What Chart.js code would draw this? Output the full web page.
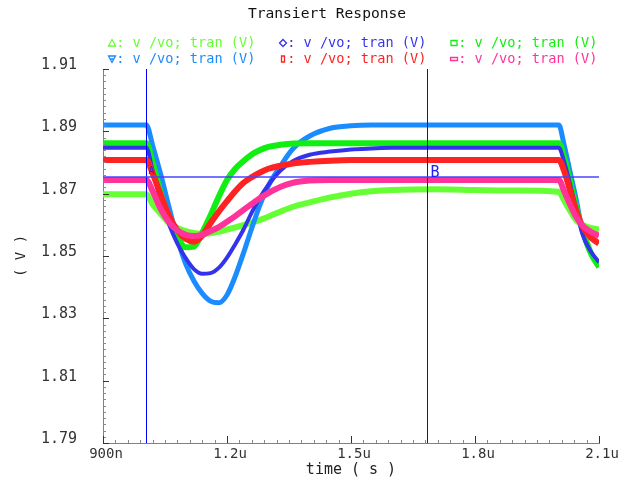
<!DOCTYPE html>
<html>
<head>
<meta charset="utf-8">
<script src="https://cdn.jsdelivr.net/npm/chart.js@4.4.1/dist/chart.umd.min.js"></script>
<style>
  html, body { margin: 0; padding: 0; background: #fff; }
</style>
</head>
<body>
<canvas id="chart" width="626" height="483"></canvas>
<script>
// time in microseconds
const times = [0.9, 0.95, 1.005, 1.02, 1.04, 1.06, 1.08, 1.10, 1.12, 1.14, 1.16, 1.18, 1.20, 1.22, 1.24, 1.26, 1.28, 1.30,
    1.33, 1.36, 1.40, 1.45, 1.50, 1.55, 1.60, 1.70, 1.80, 1.90, 2.003, 2.015, 2.03, 2.045, 2.06, 2.08, 2.1];

const lightGreen = [1.8698, 1.8698, 1.8698, 1.8666, 1.8635, 1.8606, 1.8590, 1.8580, 1.8574, 1.8571, 1.8573, 1.8578, 1.8585, 1.8592, 1.8599, 1.8607, 1.8616, 1.8626,
    1.8643, 1.8658, 1.8672, 1.8688, 1.8700, 1.8708, 1.8712, 1.8714, 1.8712, 1.8710, 1.8706, 1.8680, 1.8645, 1.8615, 1.8600, 1.8590, 1.8585];
const darkBlue = [1.8847, 1.8847, 1.8847, 1.8775, 1.8675, 1.8600, 1.8540, 1.8493, 1.8458, 1.8443, 1.8445, 1.8462, 1.8495, 1.8538, 1.8585, 1.8640, 1.8688, 1.8728,
    1.8775, 1.8805, 1.8825, 1.8835, 1.8842, 1.8845, 1.8847, 1.8847, 1.8847, 1.8847, 1.8847, 1.8805, 1.8730, 1.8650, 1.8570, 1.8515, 1.8480];
const green = [1.8862, 1.8862, 1.8862, 1.8800, 1.8700, 1.8622, 1.8562, 1.8528, 1.8530, 1.8575, 1.8630, 1.8690, 1.8744, 1.8780, 1.8805, 1.8826, 1.8840, 1.8850,
    1.8857, 1.8861, 1.8862, 1.8862, 1.8862, 1.8862, 1.8862, 1.8862, 1.8862, 1.8862, 1.8862, 1.8820, 1.8740, 1.8655, 1.8585, 1.8510, 1.8465];
const lightBlue = [1.8920, 1.8920, 1.8920, 1.8855, 1.8760, 1.8655, 1.8555, 1.8475, 1.8420, 1.8380, 1.8355, 1.8350, 1.8375, 1.8435, 1.8510, 1.8590, 1.8665, 1.8725,
    1.8790, 1.8845, 1.8885, 1.8910, 1.8918, 1.8920, 1.8920, 1.8920, 1.8920, 1.8920, 1.8920, 1.8860, 1.8770, 1.8680, 1.8580, 1.8510, 1.8465];
const red = [1.8808, 1.8808, 1.8808, 1.8765, 1.8695, 1.8628, 1.8582, 1.8555, 1.8546, 1.8565, 1.8605, 1.8642, 1.8676, 1.8708, 1.8735, 1.8753, 1.8768, 1.8780,
    1.8790, 1.8797, 1.8802, 1.8806, 1.8808, 1.8808, 1.8808, 1.8808, 1.8808, 1.8808, 1.8808, 1.8775, 1.8710, 1.8645, 1.8595, 1.8560, 1.8540];
const pink = [1.8744, 1.8744, 1.8744, 1.8708, 1.8650, 1.8608, 1.8582, 1.8568, 1.8564, 1.8568, 1.8580, 1.8593, 1.8610, 1.8628, 1.8648, 1.8667, 1.8686, 1.8702,
    1.8722, 1.8735, 1.8742, 1.8744, 1.8744, 1.8744, 1.8744, 1.8744, 1.8744, 1.8744, 1.8744, 1.8710, 1.8665, 1.8625, 1.8598, 1.8578, 1.8565];

const xTickVals = [0.9, 1.2, 1.5, 1.8, 2.1];
const xTickLabels = ['900n', '1.2u', '1.5u', '1.8u', '2.1u'];
const yTickVals = [1.79, 1.81, 1.83, 1.85, 1.87, 1.89, 1.91];
const yTickLabels = ['1.79', '1.81', '1.83', '1.85', '1.87', '1.89', '1.91'];

const cursorA = 1.004;
const cursorB = 1.684;
const cursorY = 1.8754;

const MONO = '"DejaVu Sans Mono", monospace';

// legend order (row by row)
const legendItems = [
    { mark: 'tri', color: '#66ff33', text: ': v /vo; tran (V)' },
    { mark: 'diamond', color: '#3333ee', text: ': v /vo; tran (V)' },
    { mark: 'square', color: '#11ee11', text: ': v /vo; tran (V)' },
    { mark: 'tridown', color: '#1a8cff', text: ': v /vo; tran (V)' },
    { mark: 'tall', color: '#ff2222', text: ': v /vo; tran (V)' },
    { mark: 'wide', color: '#ff3399', text: ': v /vo; tran (V)' }
];

const pts = arr => times.map((t, i) => ({ x: t, y: arr[i] }));

function mkSet(arr, color, width) {
    return {
        data: pts(arr),
        borderColor: color,
        borderWidth: width,
        pointRadius: 0,
        fill: false,
        cubicInterpolationMode: 'monotone'
    };
}

function drawMark(ctx, kind, x, y, color) {
    ctx.strokeStyle = color;
    ctx.lineWidth = 1.3;
    ctx.beginPath();
    if (kind === 'tri') {
        ctx.moveTo(x, y - 3.5); ctx.lineTo(x + 3.5, y + 3); ctx.lineTo(x - 3.5, y + 3); ctx.closePath();
    } else if (kind === 'tridown') {
        ctx.moveTo(x - 3.5, y - 3); ctx.lineTo(x + 3.5, y - 3); ctx.lineTo(x, y + 3.5); ctx.closePath();
        ctx.moveTo(x - 2, y); ctx.lineTo(x + 2, y);
    } else if (kind === 'diamond') {
        ctx.moveTo(x, y - 3.5); ctx.lineTo(x + 3.5, y); ctx.lineTo(x, y + 3.5); ctx.lineTo(x - 3.5, y); ctx.closePath();
    } else if (kind === 'square') {
        ctx.rect(x - 3, y - 2.5, 6, 5);
    } else if (kind === 'tall') {
        ctx.rect(x - 1.5, y - 3, 3, 6);
    } else {
        ctx.rect(x - 3.5, y - 1.5, 7, 3);
    }
    ctx.stroke();
}

const decor = {
    id: 'decor',
    afterDatasetsDraw(chart) {
        const { ctx, chartArea: a, scales: { x, y } } = chart;
        ctx.save();
        // cursors
        ctx.lineWidth = 1;
        ctx.strokeStyle = '#0000ff';
        let px = Math.round(x.getPixelForValue(cursorA)) + 0.5;
        ctx.beginPath(); ctx.moveTo(px, a.top); ctx.lineTo(px, a.bottom); ctx.stroke();
        ctx.strokeStyle = '#14148c';
        const pxB = Math.round(x.getPixelForValue(cursorB)) + 0.5;
        ctx.beginPath(); ctx.moveTo(pxB, a.top); ctx.lineTo(pxB, a.bottom); ctx.stroke();
        ctx.strokeStyle = 'rgba(70,70,255,0.75)';
        ctx.lineWidth = 2;
        const py = Math.round(y.getPixelForValue(cursorY));
        ctx.beginPath(); ctx.moveTo(a.left, py); ctx.lineTo(a.right, py); ctx.stroke();

        ctx.fillStyle = '#2020ff';
        ctx.textBaseline = 'middle';
        ctx.textAlign = 'left';
        ctx.font = '10px ' + MONO;
        ctx.fillText('A', px + 2, py - 6);
        ctx.font = '15px ' + MONO;
        ctx.fillText('B', pxB + 3, py - 4);
        ctx.restore();
    },
    afterDraw(chart) {
        const { ctx, chartArea: a, scales: { x, y } } = chart;
        ctx.save();
        // minor / major ticks, pointing inward
        ctx.lineWidth = 1;
        for (let i = 0; i <= 60; i++) {
            const v = 1.79 + i * 0.002;
            const py = Math.round(y.getPixelForValue(v)) + 0.5;
            const major = i % 10 === 0;
            ctx.strokeStyle = major ? '#333' : '#8a8a8a';
            ctx.beginPath(); ctx.moveTo(a.left, py); ctx.lineTo(a.left + (major ? 6 : 3), py); ctx.stroke();
        }
        for (let i = 0; i <= 40; i++) {
            const v = 0.9 + i * 0.03;
            const px = Math.round(x.getPixelForValue(v)) + 0.5;
            const major = i % 10 === 0;
            ctx.strokeStyle = major ? '#333' : '#8a8a8a';
            ctx.beginPath(); ctx.moveTo(px, a.bottom); ctx.lineTo(px, a.bottom - (major ? 7 : 3)); ctx.stroke();
        }

        // title
        ctx.fillStyle = '#111';
        ctx.textAlign = 'center';
        ctx.textBaseline = 'middle';
        ctx.font = '14.6px ' + MONO;
        ctx.fillText('Transiert Response', 327, 14);

        // legend
        ctx.font = '13.6px ' + MONO;
        ctx.textAlign = 'left';
        legendItems.forEach((it, i) => {
            const x0 = 108 + (i % 3) * 171;
            const yc = 43 + Math.floor(i / 3) * 16;
            drawMark(ctx, it.mark, x0 + 4, yc, it.color);
            ctx.fillStyle = it.color;
            ctx.fillText(it.text, x0 + 8.2, yc);
        });
        ctx.restore();
    }
};

new Chart(document.getElementById('chart'), {
    type: 'line',
    data: {
        datasets: [
            mkSet(pink, '#ff3399', 6),
            mkSet(red, '#ff2222', 6),
            mkSet(darkBlue, '#3333ee', 4),
            mkSet(green, '#11ee11', 6),
            mkSet(lightBlue, '#1a8cff', 5),
            mkSet(lightGreen, '#66ff33', 6)
        ]
    },
    options: {
        responsive: false,
        animation: false,
        events: [],
        layout: { padding: { top: 69, right: 27, left: 0, bottom: 0 } },
        plugins: {
            legend: { display: false },
            tooltip: { enabled: false }
        },
        scales: {
            x: {
                type: 'linear',
                min: 0.9,
                max: 2.1,
                afterBuildTicks: s => { s.ticks = xTickVals.map(v => ({ value: v })); },
                afterFit: s => { s.height = 40; },
                grid: { display: false, drawTicks: false },
                border: { display: true, color: '#808080', width: 1 },
                ticks: {
                    callback: (v, i) => xTickLabels[i],
                    font: { family: MONO, size: 14 },
                    color: '#333',
                    padding: 3,
                    labelOffset: 3,
                    maxRotation: 0,
                    autoSkip: false
                },
                title: {
                    display: true,
                    text: 'time ( s )',
                    font: { family: MONO, size: 15 },
                    color: '#222',
                    padding: { top: 0, bottom: 4 }
                }
            },
            y: {
                type: 'linear',
                min: 1.79,
                max: 1.91,
                afterBuildTicks: s => { s.ticks = yTickVals.map(v => ({ value: v })); },
                afterFit: s => { s.width = 103; },
                grid: { display: false, drawTicks: false },
                border: { display: true, color: '#808080', width: 1 },
                ticks: {
                    callback: (v, i) => yTickLabels[i],
                    font: { family: MONO, size: 15 },
                    color: '#333',
                    padding: 26,
                    labelOffset: -4,
                    autoSkip: false
                },
                title: {
                    display: true,
                    text: '( V )',
                    font: { family: MONO, size: 14 },
                    color: '#222',
                    padding: { top: 13, bottom: 0 }
                }
            }
        }
    },
    plugins: [decor]
});
</script>
</body>
</html>
